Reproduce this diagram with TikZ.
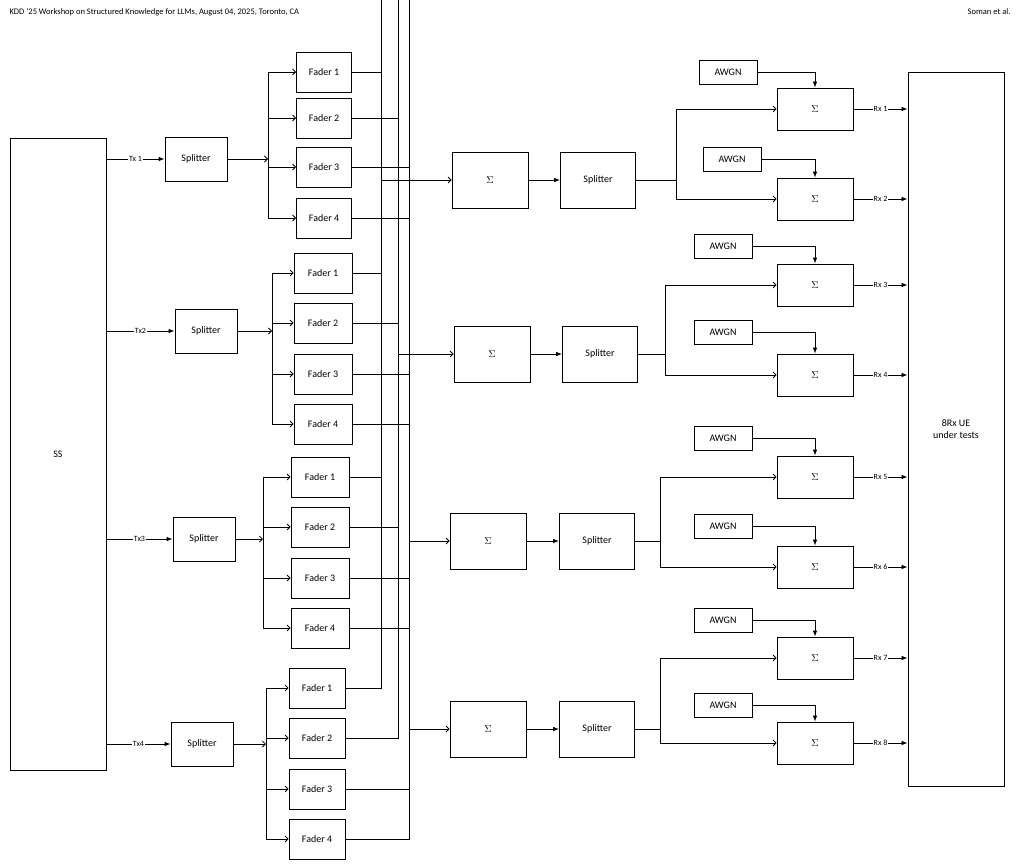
\documentclass[tikz,border=0pt]{standalone}
\usepackage{fontspec}
\setmainfont{Carlito}
\usetikzlibrary{arrows.meta, positioning, calc}
\tikzstyle{blk} = [rectangle, draw=black, thick, text centered, font=\fontsize{10}{12}\selectfont]
\tikzstyle{arrow} = [thick,-{Latex[length=6pt]}]
\tikzstyle{thin arrow} = [thick,-{Straight Barb[length=3pt]}]
\tikzstyle{wire} = [thick]
\begin{document}
\begin{tikzpicture}[x=1pt,y=-1pt]
\useasboundingbox (0,0) rectangle (1020,867);
% Header
\node[anchor=west, font=\fontsize{8.5}{10}\selectfont] (head) at (6,12) {KDD ’25 Workshop on Structured Knowledge for LLMs, August 04, 2025, Toronto, CA};
\node[anchor=east, font=\fontsize{8.5}{10}\selectfont] (auth) at (1014,12) {Soman et al.};

% Source and UE
\node (ss) [blk, minimum width=96pt, minimum height=632pt] at (58,454) {SS};
\node (ue) [blk, minimum width=96pt, minimum height=714pt, align=center] at (956,429) {8Rx UE\\under tests};

% Splitter + fader groups: index/splitter x/y/branch x/fader x/fader width/y of faders/tx label
\foreach \g/\sx/\sy/\bx/\fx/\fw/\fa/\fb/\fc/\fd/\tx in {
  1/196/159/268/324/55/72/118/167/218/{Tx 1},
  2/206/331/272/323/58/273/323/374/424/Tx2,
  3/204/539/263/320/58/477/527/578/628/Tx3,
  4/202/744/266/317/56/688/738/789/839/Tx4}{
  \node (sp\g) [blk, minimum width=62pt, minimum height=44pt] at (\sx,\sy) {Splitter};
  \coordinate (br\g) at (\bx,\sy);
  \node (f\g-1) [blk, minimum width=\fw pt, minimum height=40pt] at (\fx,\fa) {Fader 1};
  \node (f\g-2) [blk, minimum width=\fw pt, minimum height=40pt] at (\fx,\fb) {Fader 2};
  \node (f\g-3) [blk, minimum width=\fw pt, minimum height=40pt] at (\fx,\fc) {Fader 3};
  \node (f\g-4) [blk, minimum width=\fw pt, minimum height=40pt] at (\fx,\fd) {Fader 4};
  \draw [arrow] (ss.east |- sp\g) -- node[fill=white, inner sep=1pt, font=\fontsize{8}{9}\selectfont] {\tx} (sp\g.west);
  \draw [thin arrow] (sp\g.east) -- (br\g);
  \foreach \k in {1,...,4}
    \draw [thin arrow] (br\g) |- (f\g-\k.west);
}

% Fader buses
\coordinate (busA) at (381,0);
\coordinate (busB) at (398,0);
\coordinate (busC) at (409,0);
\foreach \g in {1,...,4}{
  \draw [wire] (f\g-1.east) -| (busA);
  \draw [wire] (f\g-2.east) -| (busB);
  \draw [wire] (f\g-3.east) -| (busC);
  \draw [wire] (f\g-4.east) -| (busC);
}
\draw [wire] (381,72) -- (381,688);
\draw [wire] (398,118) -- (398,738);
\draw [wire] (409,167) -- (409,839);

% Combiners and splitters
\foreach \r/\bus/\cx/\cy/\px in {1/381/490/180/598, 2/398/492/354/600, 3/409/488/541/597, 4/409/488/729/597}{
  \node (sum\r) [blk, minimum width=76pt, minimum height=56pt] at (\cx,\cy) {$\Sigma$};
  \node (out\r) [blk, minimum width=75pt, minimum height=56pt] at (\px,\cy) {Splitter};
  \coordinate (in\r) at (\bus,\cy);
  \draw [thin arrow] (in\r) -- (sum\r.west);
  \draw [arrow] (sum\r) -- (out\r);
}

% Receiver branches
\foreach \r/\ya/\yb/\wa/\wb/\nx/\na/\nb in {
  1/109/199/72/159/676/728/732,
  2/285/375/246/332/665/723/723,
  3/477/567/438/526/660/723/723,
  4/658/743/620/705/660/723/723}{
  \pgfmathtruncatemacro{\ra}{2*\r-1}
  \pgfmathtruncatemacro{\rb}{2*\r}
  \node (rs\ra) [blk, minimum width=76pt, minimum height=42pt] at (815,\ya) {$\Sigma$};
  \node (rs\rb) [blk, minimum width=76pt, minimum height=42pt] at (815,\yb) {$\Sigma$};
  \node (aw\ra) [blk, minimum width=58pt, minimum height=24pt] at (\na,\wa) {AWGN};
  \node (aw\rb) [blk, minimum width=58pt, minimum height=24pt] at (\nb,\wb) {AWGN};
  \coordinate (fork\r) at (\nx,0);
  \draw [wire] (out\r.east) -| (fork\r |- rs\ra);
  \draw [wire] (out\r.east) -| (fork\r |- rs\rb);
  \draw [thin arrow] (fork\r |- rs\ra) -- (rs\ra.west);
  \draw [thin arrow] (fork\r |- rs\rb) -- (rs\rb.west);
  \draw [arrow] (aw\ra.east) -| (rs\ra.north);
  \draw [arrow] (aw\rb.east) -| (rs\rb.north);
  \draw [arrow] (rs\ra.east) -- node[fill=white, inner sep=1pt, font=\fontsize{8}{9}\selectfont] {Rx \ra} (ue.west |- rs\ra);
  \draw [arrow] (rs\rb.east) -- node[fill=white, inner sep=1pt, font=\fontsize{8}{9}\selectfont] {Rx \rb} (ue.west |- rs\rb);
}
\end{tikzpicture}
\end{document}
